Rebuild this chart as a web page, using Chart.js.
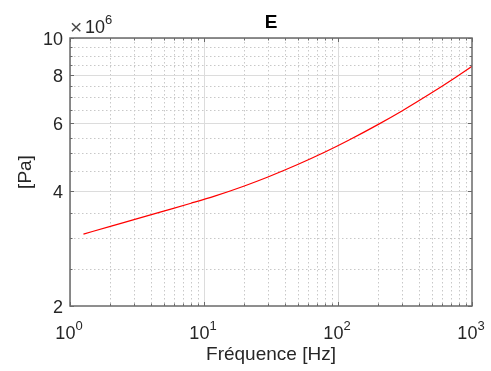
<!DOCTYPE html>
<html>
<head>
<meta charset="utf-8">
<script src="https://cdn.jsdelivr.net/npm/chart.js@4/dist/chart.umd.min.js"></script>
<style>
  html, body { margin: 0; padding: 0; background: #ffffff; }
  #wrap { width: 491px; height: 371px; position: relative; }
</style>
</head>
<body>
<div id="wrap"><canvas id="c" width="491" height="371"></canvas></div>
<script>
// ---- data ----
const freqHz = [1.26, 2, 3, 5, 8, 12, 20, 30, 50, 80, 120, 200, 300, 500, 700, 1000];
const modulusE = [3.08e6, 3.227e6, 3.36e6, 3.536e6, 3.707e6, 3.869e6, 4.113e6, 4.34e6, 4.677e6, 5.041e6, 5.41e6, 5.952e6, 6.451e6, 7.194e6, 7.759e6, 8.44e6];

const xMajorTicks = [1, 10, 100, 1000];
const xMinorTicks = [2,3,4,5,6,7,8,9, 20,30,40,50,60,70,80,90, 200,300,400,500,600,700,800,900];
const yMajorTicks = [2e6, 4e6, 6e6, 8e6, 10e6];
const yMajorLabels = ['2', '4', '6', '8', '10'];
const yMinorTicks = [2.5e6, 3e6, 3.5e6, 4.5e6, 5e6, 5.5e6, 6.5e6, 7e6, 7.5e6, 8.5e6, 9e6, 9.5e6];
const xExponents = ['0', '1', '2', '3'];
const yScaleExponent = '6';
const titleText = 'E';
const xLabelText = 'Fréquence [Hz]';
const yLabelText = '[Pa]';

const FONT = '"Liberation Sans", Arial, Helvetica, sans-serif';
const TXT = '#262626';

const axesPlugin = {
  id: 'matlabAxes',
  beforeDatasetsDraw(chart) {
    const ctx = chart.ctx, a = chart.chartArea, xs = chart.scales.x, ys = chart.scales.y;
    ctx.save();
    ctx.beginPath();
    ctx.rect(a.left, a.top, a.right - a.left, a.bottom - a.top);
    ctx.clip();
    // minor grid (dotted)
    ctx.strokeStyle = '#c8c8c8';
    ctx.lineWidth = 1;
    ctx.setLineDash([1.5, 2.5]);
    xMinorTicks.forEach(v => {
      const p = Math.round(xs.getPixelForValue(v)) + 0.5;
      ctx.beginPath(); ctx.moveTo(p, a.top); ctx.lineTo(p, a.bottom); ctx.stroke();
    });
    yMinorTicks.forEach(v => {
      const p = Math.round(ys.getPixelForValue(v)) + 0.5;
      ctx.beginPath(); ctx.moveTo(a.left, p); ctx.lineTo(a.right, p); ctx.stroke();
    });
    // major grid (solid)
    ctx.setLineDash([]);
    ctx.strokeStyle = '#dcdcdc';
    xMajorTicks.forEach(v => {
      const p = Math.round(xs.getPixelForValue(v)) + 0.5;
      ctx.beginPath(); ctx.moveTo(p, a.top); ctx.lineTo(p, a.bottom); ctx.stroke();
    });
    yMajorTicks.forEach(v => {
      const p = Math.round(ys.getPixelForValue(v)) + 0.5;
      ctx.beginPath(); ctx.moveTo(a.left, p); ctx.lineTo(a.right, p); ctx.stroke();
    });
    ctx.restore();
  },
  afterDatasetsDraw(chart) {
    const ctx = chart.ctx, a = chart.chartArea, xs = chart.scales.x, ys = chart.scales.y;
    ctx.save();
    ctx.strokeStyle = '#6a6a6a';
    ctx.lineWidth = 1.5;
    ctx.setLineDash([]);
    ctx.strokeRect(a.left, a.top, a.right - a.left, a.bottom - a.top);
    // tick marks (inward, both sides)
    ctx.lineWidth = 1;
    const tick = (x1, y1, x2, y2) => { ctx.beginPath(); ctx.moveTo(x1, y1); ctx.lineTo(x2, y2); ctx.stroke(); };
    xMajorTicks.concat(xMinorTicks).forEach(v => {
      const p = Math.round(xs.getPixelForValue(v)) + 0.5;
      const len = xMajorTicks.includes(v) ? 4 : 2.5;
      tick(p, a.bottom, p, a.bottom - len);
      tick(p, a.top, p, a.top + len);
    });
    yMajorTicks.concat(yMinorTicks).forEach(v => {
      const p = Math.round(ys.getPixelForValue(v)) + 0.5;
      const len = yMajorTicks.includes(v) ? 4 : 2.5;
      tick(a.left, p, a.left + len, p);
      tick(a.right, p, a.right - len, p);
    });
    ctx.restore();
  },
  afterDraw(chart) {
    const ctx = chart.ctx, a = chart.chartArea, xs = chart.scales.x, ys = chart.scales.y;
    ctx.save();
    ctx.fillStyle = TXT;
    // y tick labels
    ctx.font = '18px ' + FONT;
    ctx.textAlign = 'right';
    ctx.textBaseline = 'middle';
    yMajorTicks.forEach((v, i) => {
      ctx.fillText(yMajorLabels[i], a.left - 7, ys.getPixelForValue(v) + 2);
    });
    // x tick labels: 10^n
    ctx.textBaseline = 'alphabetic';
    xMajorTicks.forEach((v, i) => {
      const px = xs.getPixelForValue(v);
      ctx.font = '18px ' + FONT;
      const wBase = ctx.measureText('10').width;
      ctx.font = '13px ' + FONT;
      const wExp = ctx.measureText(xExponents[i]).width;
      const left = px - (wBase + wExp) / 2 - 1;
      ctx.textAlign = 'left';
      ctx.font = '18px ' + FONT;
      ctx.fillText('10', left, a.bottom + 33);
      ctx.font = '13px ' + FONT;
      ctx.fillText(xExponents[i], left + wBase, a.bottom + 24);
    });
    // y exponent multiplier  (×10^6)
    ctx.textAlign = 'left';
    ctx.fillStyle = '#4a4a4a';
    ctx.font = '21px ' + FONT;
    ctx.fillText('\u00d7', a.left, a.top - 4);
    ctx.fillStyle = TXT;
    ctx.font = '18px ' + FONT;
    ctx.fillText('10', a.left + 15, a.top - 5);
    const w10 = ctx.measureText('10').width;
    ctx.font = '13px ' + FONT;
    ctx.fillText(yScaleExponent, a.left + 15 + w10, a.top - 14);
    // title
    ctx.font = 'bold 19px ' + FONT;
    ctx.textAlign = 'center';
    ctx.textBaseline = 'middle';
    ctx.fillStyle = '#000000';
    ctx.fillText(titleText, (a.left + a.right) / 2, 23);
    // x label
    ctx.fillStyle = TXT;
    ctx.font = '19px ' + FONT;
    ctx.fillText(xLabelText, (a.left + a.right) / 2, a.bottom + 49);
    // y label
    ctx.save();
    ctx.translate(26, (a.top + a.bottom) / 2);
    ctx.rotate(-Math.PI / 2);
    ctx.fillText(yLabelText, 0, 0);
    ctx.restore();
    ctx.restore();
  }
};

new Chart(document.getElementById('c'), {
  type: 'line',
  data: {
    datasets: [{
      data: freqHz.map((f, i) => ({ x: f, y: modulusE[i] })),
      borderColor: '#ff0000',
      borderWidth: 1.2,
      pointRadius: 0,
      fill: false,
      cubicInterpolationMode: 'monotone'
    }]
  },
  options: {
    responsive: false,
    animation: false,
    devicePixelRatio: 1,
    layout: { padding: { left: 70, top: 38, right: 19, bottom: 65 } },
    plugins: { legend: { display: false }, tooltip: { enabled: false }, title: { display: false } },
    scales: {
      x: { type: 'logarithmic', min: 1, max: 1000, display: false },
      y: { type: 'logarithmic', min: 2e6, max: 10e6, display: false }
    }
  },
  plugins: [axesPlugin]
});
</script>
</body>
</html>
